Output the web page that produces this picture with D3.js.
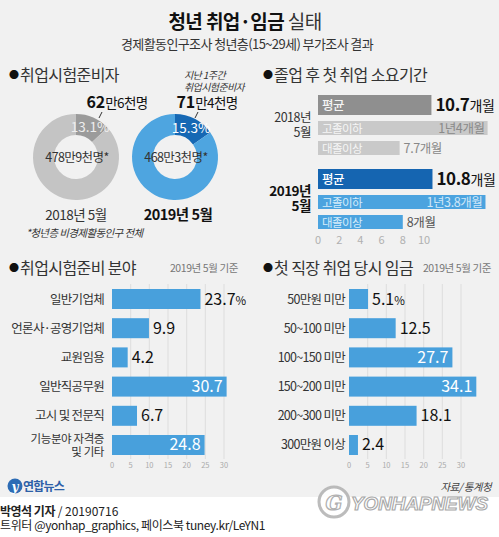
<!DOCTYPE html>
<html><head><meta charset="utf-8">
<script src="https://cdn.jsdelivr.net/npm/d3@7"></script>
<style>body{margin:0;background:#fff}svg{display:block}</style>
</head><body><svg id="c" width="499" height="537"></svg>
<script>
// ---------- data ----------
const titleBold = "청년 취업·임금";
const titleRest = "실태";
const subtitle = "경제활동인구조사 청년층(15~29세) 부가조사 결과";

const donutYears = ["2018년 5월", "2019년 5월"];
const donutShare = [13.1, 15.3];
const donutPrepNum = ["62", "71"];
const donutPrepRest = ["만6천명", "만4천명"];
const donutTotal = ["478만9천명*", "468만3천명*"];
const donutNote = "*청년층 비경제활동인구 전체";
const donutCallout = ["지난 1주간", "취업시험준비자"];

const periodYears = ["2018년", "2019년"];
const periodCats = ["평균", "고졸이하", "대졸이상"];
const period2018 = [10.7, 16, 7.7];
const period2019 = [10.8, 15.8, 8];
const periodLabels2018 = ["10.7개월", "1년4개월", "7.7개월"];
const periodLabels2019 = ["10.8개월", "1년3.8개월", "8개월"];
const periodTicks = [0, 2, 4, 6, 8, 10];

const fieldCats = ["일반기업체", "언론사·공영기업체", "교원임용", "일반직공무원", "고시 및 전문직", "기능분야 자격증|및 기타"];
const fieldValues = [23.7, 9.9, 4.2, 30.7, 6.7, 24.8];
const wageCats = ["50만원 미만", "50~100 미만", "100~150 미만", "150~200 미만", "200~300 미만", "300만원 이상"];
const wageValues = [5.1, 12.5, 27.7, 34.1, 18.1, 2.4];
const pctTicks = [0, 5, 10, 15, 20, 25, 30];

// ---------- setup ----------
const KR = "'Noto Sans CJK KR', sans-serif";
const NUM = "'Liberation Sans Narrow', 'Noto Sans CJK KR', sans-serif";
const svg = d3.select("#c");
svg.append("rect").attr("width", 499).attr("height", 497).attr("fill", "#f1f1f1");
svg.append("rect").attr("y", 497).attr("width", 499).attr("height", 40).attr("fill", "#fff");

// title
const t = svg.append("text").attr("x", 245).attr("y", 29).attr("text-anchor", "middle")
  .attr("font-family", KR).attr("font-size", 19).attr("letter-spacing", -0.6).attr("fill", "#111");
t.append("tspan").attr("font-weight", 700).text(titleBold + " ");
t.append("tspan").attr("font-weight", 400).attr("fill", "#333").text(titleRest);
svg.append("text").attr("x", 247).attr("y", 49).attr("text-anchor", "middle")
  .attr("font-family", NUM).attr("font-size", 13).attr("letter-spacing", -0.6).attr("fill", "#333").text(subtitle);

function heading(x, y, txt) {
  const h = svg.append("text").attr("x", x).attr("y", y).attr("font-family", KR)
    .attr("font-size", 16).attr("letter-spacing", -0.6).attr("fill", "#333");
  h.append("tspan").attr("font-size", 10).attr("fill", "#111").text("● ").attr("dy", -2);
  h.append("tspan").attr("dy", 2).text(txt);
}
heading(9, 81, "취업시험준비자");
heading(263, 81, "졸업 후 첫 취업 소요기간");
heading(9, 274, "취업시험준비 분야");
heading(263, 274, "첫 직장 취업 당시 임금");

// ---------- donuts ----------
const donutX = d3.scalePoint().domain(donutYears).range([76, 175]);
const donutColors = [["#9b9b9b", "#c4c4c4"], ["#1668b4", "#4ea5e0"]];
const pie = d3.pie().sort(null);
const arc = d3.arc().innerRadius(22).outerRadius(43);
const labelDx = [41, 32];
const leaderDx = [24, 21];
donutYears.forEach((yr, i) => {
  const cx = donutX(yr), cy = 157;
  const g = svg.append("g").attr("transform", `translate(${cx},${cy})`);
  const arcs = pie([donutShare[i], 100 - donutShare[i]]);
  g.selectAll("path").data(arcs).join("path").attr("d", arc)
    .attr("fill", (d, j) => donutColors[i][j]);
  const c = arc.centroid(arcs[0]);
  g.append("text").attr("x", c[0] + 1).attr("y", c[1] + 4.5).attr("text-anchor", "middle")
    .attr("font-family", NUM).attr("font-size", 13.5).attr("fill", i ? "#fff" : "#eee").text(donutShare[i] + "%");
  g.append("text").attr("x", 1).attr("y", 5).attr("text-anchor", "middle")
    .attr("font-family", NUM).attr("font-size", 12.5).attr("letter-spacing", -0.6).attr("fill", "#333").text(donutTotal[i]);
  // callout
  const lab = g.append("text").attr("x", labelDx[i]).attr("y", -49).attr("text-anchor", "middle")
    .attr("font-family", NUM).attr("fill", "#111");
  lab.append("tspan").attr("font-size", 16).attr("font-weight", 700).text(donutPrepNum[i]);
  lab.append("tspan").attr("font-size", 13.5).attr("letter-spacing", -0.6).text(donutPrepRest[i]);
  g.append("line").attr("x1", leaderDx[i] + 2).attr("y1", -45).attr("x2", leaderDx[i] - 1).attr("y2", -39)
    .attr("stroke", "#333").attr("stroke-width", 1);
  g.append("text").attr("x", i ? 3 : 0).attr("y", 63).attr("text-anchor", "middle")
    .attr("font-family", NUM).attr("font-size", i ? 14.5 : 13.5).attr("font-weight", i ? 700 : 400)
    .attr("letter-spacing", -0.5).attr("fill", i ? "#111" : "#333").text(yr);
});
const co = svg.append("text").attr("font-family", KR).attr("font-size", 10)
  .attr("font-style", "italic").attr("letter-spacing", -0.6).attr("fill", "#333");
donutCallout.forEach((s, k) => co.append("tspan").attr("x", 184).attr("y", 79 + k * 12).text(s));
svg.append("text").attr("x", 26).attr("y", 237).attr("font-family", KR).attr("font-size", 10.5)
  .attr("font-style", "italic").attr("letter-spacing", -0.6).attr("fill", "#333").text(donutNote);

// ---------- period bars ----------
const xp = d3.scaleLinear().domain([0, 10]).range([318, 424]);
const yGroup = d3.scaleBand().domain(periodYears).range([95, 243]);
const yRow = d3.scaleOrdinal().domain(periodCats).range([0, 26, 46]);
const hRow = d3.scaleOrdinal().domain(periodCats).range([20, 14, 14]);
const periodData = [period2018, period2019];
const periodLabels = [periodLabels2018, periodLabels2019];
const pColors = [["#8f8f8f", "#c9c9c9", "#c9c9c9"], ["#1565b1", "#4ba3df", "#4ba3df"]];
const pInLab = [["#f4f4f4", "#f6f6f6", "#f6f6f6"], ["#fff", "#d6ecfa", "#d6ecfa"]];
const pValCol = [["#111", "#8a8a8a", "#888"], ["#111", "#cfe7f8", "#555"]];
periodYears.forEach((yr, gi) => {
  const gy = yGroup(yr);
  periodCats.forEach((cat, ri) => {
    const v = periodData[gi][ri];
    const y0 = gy + yRow(cat), h = hRow(cat);
    svg.append("rect").attr("x", xp(0)).attr("y", y0).attr("width", xp(v) - xp(0)).attr("height", h)
      .attr("fill", pColors[gi][ri]);
    svg.append("text").attr("x", xp(0) + 4).attr("y", y0 + h / 2 + 4.5).attr("font-family", KR)
      .attr("font-size", ri ? 11.5 : 12.5).attr("font-weight", ri ? 400 : 500).attr("letter-spacing", -0.6)
      .attr("fill", pInLab[gi][ri]).text(cat);
    const lbl = periodLabels[gi][ri];
    const inside = v > 12;
    const tx = svg.append("text").attr("x", inside ? xp(v) - 3 : xp(v) + 4)
      .attr("y", y0 + h / 2 + (ri ? 4.5 : 6)).attr("text-anchor", inside ? "end" : "start")
      .attr("font-family", NUM).attr("fill", pValCol[gi][ri]).attr("letter-spacing", -0.4);
    if (ri === 0) {
      const m = lbl.match(/^([\d.]+)(.*)$/);
      tx.append("tspan").attr("font-size", 17).attr("font-weight", 700).text(m[1]);
      tx.append("tspan").attr("font-size", 14).text(m[2]);
    } else {
      tx.attr("font-size", 12.5).text(lbl);
    }
  });
  const yl = svg.append("text").attr("text-anchor", "end").attr("font-family", NUM)
    .attr("font-size", gi ? 13.5 : 12.5).attr("font-weight", gi ? 700 : 400)
    .attr("fill", gi ? "#111" : "#333").attr("letter-spacing", -0.5);
  yl.append("tspan").attr("x", 311).attr("y", gy + 27).text(yr);
  yl.append("tspan").attr("x", 311).attr("y", gy + 42).text("5월");
});
svg.append("g").selectAll("text").data(periodTicks).join("text")
  .attr("x", d => xp(d)).attr("y", 244).attr("text-anchor", "middle")
  .attr("font-family", NUM).attr("font-size", 11).attr("fill", "#b0b0b0").text(d => d);

// ---------- horizontal % bars ----------
function pctChart(cats, vals, xr, labelX, noteX) {
  const x = d3.scaleLinear().domain([0, 30]).range(xr);
  const y = d3.scaleBand().domain(cats).range([289, 455]).paddingInner(0.315).paddingOuter(0);
  const g = svg.append("g");
  g.selectAll("line.grid").data(pctTicks.slice(1)).join("line").attr("class", "grid")
    .attr("x1", d => x(d)).attr("x2", d => x(d)).attr("y1", 284).attr("y2", 459)
    .attr("stroke", "#d9d9d9").attr("stroke-width", 0.8);
  g.selectAll("rect").data(vals).join("rect")
    .attr("x", x(0)).attr("y", (d, i) => y(cats[i])).attr("width", d => x(d) - x(0))
    .attr("height", y.bandwidth()).attr("fill", "#48a0dc");
  vals.forEach((v, i) => {
    const inside = v > 24;
    const cy = y(cats[i]) + y.bandwidth() / 2;
    const tx = g.append("text").attr("x", inside ? x(v) - 4 : x(v) + 4).attr("y", cy + 5.5)
      .attr("text-anchor", inside ? "end" : "start").attr("font-family", NUM)
      .attr("font-size", 16).attr("fill", inside ? "#fff" : "#111");
    if (i === 0 && !inside) {
      tx.append("tspan").text(v.toFixed(1));
      tx.append("tspan").attr("font-size", 11.5).text("%");
    } else tx.text(v.toFixed(1));
    const parts = cats[i].split("|");
    const lt = g.append("text").attr("text-anchor", "end").attr("font-family", NUM)
      .attr("font-size", parts.length > 1 ? 11.5 : 12.5).attr("letter-spacing", parts.length > 1 ? -0.4 : -0.7)
      .attr("fill", "#333");
    parts.forEach((p, k) => {
      lt.append("tspan").attr("x", labelX)
        .attr("y", cy + 4.5 + (parts.length > 1 ? (k - 0.5) * 13 : 0)).text(p);
    });
  });
  g.selectAll("text.tick").data(pctTicks).join("text").attr("class", "tick")
    .attr("x", d => x(d)).attr("y", 468).attr("text-anchor", "middle")
    .attr("font-family", NUM).attr("font-size", 7.5).attr("fill", "#aaa").text(d => d);
  svg.append("text").attr("x", noteX).attr("y", 272).attr("text-anchor", "end").attr("font-family", NUM)
    .attr("font-size", 10.5).attr("letter-spacing", -0.4).attr("fill", "#777").text("2019년 5월 기준");
}
pctChart(fieldCats, fieldValues, [112, 224], 104, 238);
pctChart(wageCats, wageValues, [349, 461], 345, 491);

// ---------- footer ----------
svg.append("circle").attr("cx", 15).attr("cy", 486).attr("r", 7.5).attr("fill", "#2d6cb5");
svg.append("text").attr("x", 15).attr("y", 490.5).attr("text-anchor", "middle").attr("font-family", "DejaVu Serif")
  .attr("font-style", "italic").attr("font-weight", 700).attr("font-size", 12).attr("fill", "#fff").text("y");
svg.append("text").attr("x", 23).attr("y", 491).attr("font-family", KR).attr("font-weight", 700)
  .attr("font-size", 12).attr("letter-spacing", -0.8).attr("fill", "#2d5fa8").text("연합뉴스");
svg.append("text").attr("x", 491).attr("y", 491).attr("text-anchor", "end").attr("font-family", KR)
  .attr("font-size", 10.5).attr("letter-spacing", -0.6).attr("font-style", "italic").attr("fill", "#444").text("자료/ 통계청");
const f1 = svg.append("text").attr("x", 0).attr("y", 516).attr("font-family", NUM).attr("font-size", 12).attr("fill", "#222");
f1.append("tspan").attr("font-weight", 700).attr("letter-spacing", -0.5).text("박영석 기자");
f1.append("tspan").text(" / 20190716");
svg.append("text").attr("x", 0).attr("y", 530).attr("font-family", NUM).attr("font-size", 12)
  .attr("letter-spacing", -0.4).attr("fill", "#222").text("트위터 @yonhap_graphics, 페이스북 tuney.kr/LeYN1");
// watermark
svg.append("circle").attr("cx", 334).attr("cy", 502).attr("r", 15).attr("fill", "#fff")
  .attr("stroke", "#b5b5b5").attr("stroke-width", 3).attr("opacity", 0.9);
svg.append("text").attr("x", 334).attr("y", 510).attr("text-anchor", "middle").attr("font-family", "DejaVu Serif")
  .attr("font-style", "italic").attr("font-weight", 700).attr("font-size", 20).attr("fill", "#fff")
  .attr("stroke", "#b0b0b0").attr("stroke-width", 1.2).text("G");
svg.append("text").attr("x", 351).attr("y", 510).attr("font-family", "Liberation Sans").attr("font-weight", 700)
  .attr("font-style", "italic").attr("font-size", 18).attr("textLength", 137).attr("lengthAdjust", "spacingAndGlyphs")
  .attr("fill", "#fff").attr("stroke", "#a8a8a8").attr("stroke-width", 1.1).text("YONHAPNEWS");
</script></body></html>
